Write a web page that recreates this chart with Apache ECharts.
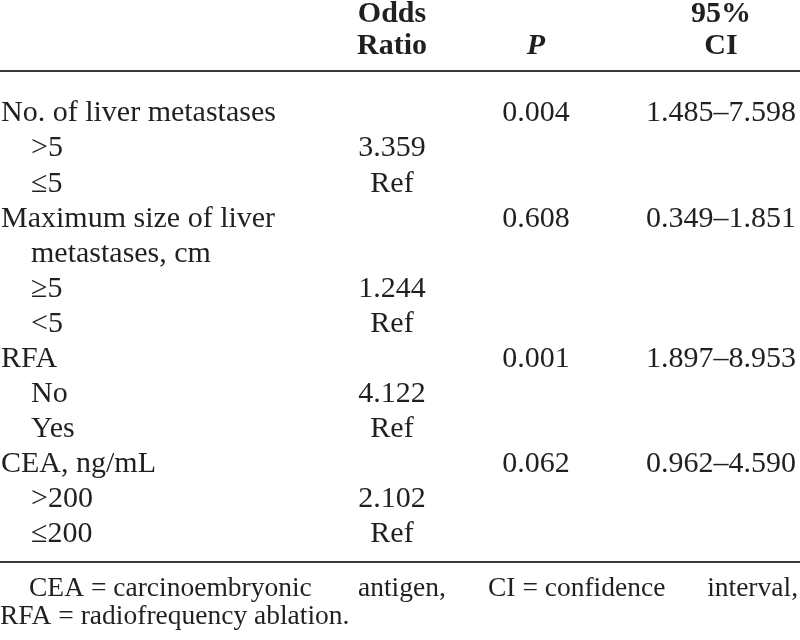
<!DOCTYPE html>
<html>
<head>
<meta charset="utf-8">
<script src="https://cdn.jsdelivr.net/npm/echarts@6/dist/echarts.min.js"></script>
<style>html,body{margin:0;padding:0;background:#fff}#c{width:800px;height:640px}</style>
</head>
<body>
<div id="c"></div>
<script>
// ---- data ----
const rowLabels = ['No. of liver metastases', '>5', '\u22645', 'Maximum size of liver', 'metastases, cm', '\u22655', '<5', 'RFA', 'No', 'Yes', 'CEA, ng/mL', '>200', '\u2264200'];
const rowIndent = [0, 1, 1, 0, 1, 1, 1, 0, 1, 1, 0, 1, 1];
const oddsRatio = [null, 3.359, 'Ref', null, null, 1.244, 'Ref', null, 4.122, 'Ref', null, 2.102, 'Ref'];
const pValues = ['0.004', null, null, '0.608', null, null, null, '0.001', null, null, '0.062', null, null];
const ciLow = [1.485, null, null, 0.349, null, null, null, 1.897, null, null, 0.962, null, null];
const ciHigh = [7.598, null, null, 1.851, null, null, null, 8.953, null, null, 4.590, null, null];
const headerLines = [['Odds', '', '95%'], ['Ratio', 'P', 'CI']];
const footLine1 = ['CEA = carcinoembryonic', 'antigen,', 'CI = confidence', 'interval,'];
const footLine2 = 'RFA = radiofrequency ablation.';

// ---- layout ----
const FONT = '"Liberation Serif", "Times New Roman", serif';
const TXT = '#231f20';
const RULE = '#3a3a3a';
const colX = { label: 1, indent: 31, odds: 392, p: 536, ci: 721 };
const rowIds = rowLabels.map((_, i) => 'r' + i);

function textSeries(name, pts, align) {
  const texts = pts.map(p => p.t);
  return {
    type: 'custom', name: name, silent: true, animation: false,
    data: pts.map(p => p.value),
    encode: { x: 0, y: 1 },
    renderItem: function (params, api) {
      const pt = api.coord([api.value(0), api.value(1)]);
      return { type: 'text', x: pt[0], y: pt[1],
        style: { text: texts[params.dataIndex], font: '30px ' + FONT, fill: TXT, align: align, verticalAlign: 'middle' } };
    }
  };
}

const labelPts = rowLabels.map((t, i) => ({ value: [rowIndent[i] ? colX.indent : colX.label, i], t: t }));
const oddsPts = [], pPts = [], ciPts = [];
oddsRatio.forEach((v, i) => { if (v !== null) oddsPts.push({ value: [colX.odds, i], t: typeof v === 'number' ? v.toFixed(3) : v }); });
pValues.forEach((v, i) => { if (v !== null) pPts.push({ value: [colX.p, i], t: v }); });
ciLow.forEach((v, i) => { if (v !== null) ciPts.push({ value: [colX.ci, i], t: v.toFixed(3) + '\u2013' + ciHigh[i].toFixed(3) }); });

const headerY = [14, 46];
const headerX = [colX.odds, colX.p, colX.ci];
const graphics = [];
headerLines.forEach((line, li) => {
  line.forEach((t, ci) => {
    if (!t) return;
    graphics.push({ type: 'text', silent: true, style: { text: t, x: headerX[ci], y: headerY[li],
      font: (t === 'P' ? 'italic bold' : 'bold') + ' 30px ' + FONT, fill: TXT, align: 'center', verticalAlign: 'middle' } });
  });
});
[71, 562].forEach(y => graphics.push({ type: 'line', silent: true, shape: { x1: 0, y1: y, x2: 800, y2: y }, style: { stroke: RULE, lineWidth: 2 } }));
const footX = [29, 358, 488, 798];
footLine1.forEach((t, i) => graphics.push({ type: 'text', silent: true, style: { text: t, x: footX[i], y: 589,
  font: '27.5px ' + FONT, fill: TXT, align: i === footLine1.length - 1 ? 'right' : 'left', verticalAlign: 'middle' } }));
graphics.push({ type: 'text', silent: true, style: { text: footLine2, x: 0, y: 617, font: '27.5px ' + FONT, fill: TXT, align: 'left', verticalAlign: 'middle' } });

const chart = echarts.init(document.getElementById('c'), null, { renderer: 'canvas' });
chart.setOption({
  animation: false,
  backgroundColor: '#fff',
  grid: { left: 0, right: 0, top: 96, height: 456 },
  xAxis: { type: 'value', min: 0, max: 800, show: false },
  yAxis: { type: 'category', data: rowIds, inverse: true, show: false },
  series: [
    textSeries('labels', labelPts, 'left'),
    textSeries('odds', oddsPts, 'center'),
    textSeries('p', pPts, 'center'),
    textSeries('ci', ciPts, 'center')
  ],
  graphic: graphics
});
</script>
</body>
</html>
